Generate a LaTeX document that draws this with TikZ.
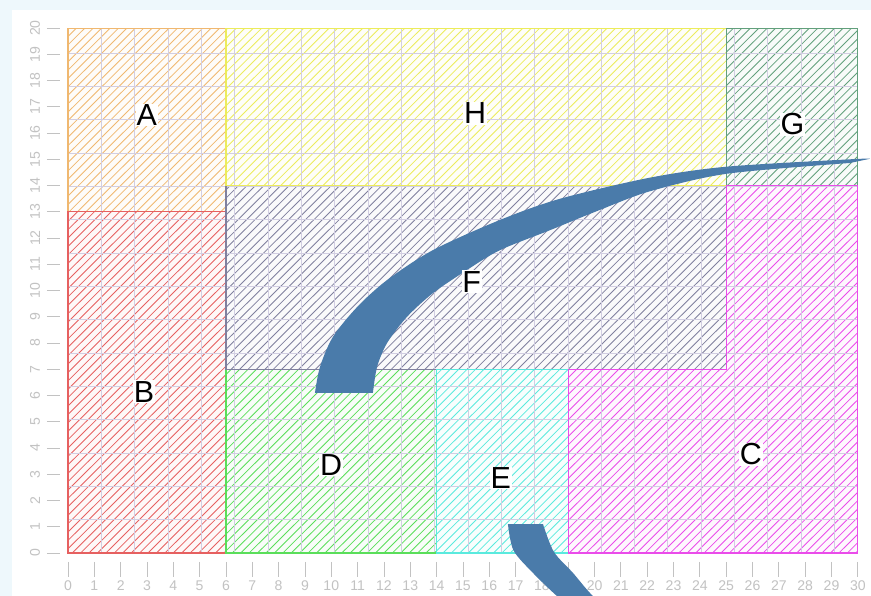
\documentclass[tikz,border=0pt]{standalone}
\usepackage{fontspec}
\setmainfont{Liberation Sans}
\usepackage{tikz}
\definecolor{frameblue}{HTML}{EEF8FC}
\definecolor{gridgray}{HTML}{D2CEE2}
\definecolor{ticklabel}{HTML}{C2C2C2}
\definecolor{arrowblue}{HTML}{4A7BAA}
\definecolor{regA}{HTML}{F0B870}
\definecolor{regB}{HTML}{E66060}
\definecolor{regC}{HTML}{EA4CEA}
\definecolor{regD}{HTML}{5ADE5A}
\definecolor{regE}{HTML}{5AEADE}
\definecolor{regF}{HTML}{80809E}
\definecolor{regG}{HTML}{62A07C}
\definecolor{regH}{HTML}{ECEC5C}
\tikzset{
  gridline/.style  = {gridgray,line width=0.7pt},
  tickline/.style  = {ticklabel,line width=0.7pt},
  ticktext/.style  = {ticklabel,inner sep=0pt,font=\fontsize{12}{12}\selectfont},
  hatchline/.style = {line width=0.7pt},
  edgeline/.style  = {line width=0.9pt},
  regionlbl/.style = {fill=white,inner sep=0.6pt,font=\fontsize{26}{26}\selectfont},
  bandfill/.style  = {fill=arrowblue}
}
\newcommand{\hatchregion}[2]{%
  \begin{scope}
    \clip #2;
    \fill[#1,opacity=0.04] #2;
    \foreach \s in {-20,-19.68,...,30} \draw[hatchline,#1] (\s,0) -- ++(20,20);
  \end{scope}}

\begin{document}
\begin{tikzpicture}[x=0.79cm,y=0.7875cm]
  \useasboundingbox (-2.583,-1.638) rectangle (30.50,21.07);
  \clip (-2.583,-1.638) rectangle (30.50,21.07);
  \fill[frameblue] (-2.583,-1.638) rectangle (30.50,21.07);
  \fill[white] (-2.127,-1.638) rectangle (30.50,20.69);

  \hatchregion{regA}{(0,13) rectangle (6,20)}
  \hatchregion{regB}{(0,0) rectangle (6,13)}
  \hatchregion{regD}{(6,0) rectangle (14,7)}
  \hatchregion{regF}{(6,7) rectangle (25,14)}
  \hatchregion{regH}{(6,14) rectangle (25,20)}
  \hatchregion{regG}{(25,14) rectangle (30,20)}
  \hatchregion{regE}{(14,0) rectangle (19,7)}
  \hatchregion{regC}{(19,0) -- (30,0) -- (30,14) -- (25,14) -- (25,7) -- (19,7) -- cycle}

  \draw[gridline] (0,0) grid (30,20);

  \draw[edgeline,regA] (0,13) rectangle (6,20);
  \draw[edgeline,regB] (0,0) rectangle (6,13);
  \draw[edgeline,regD] (6,0) rectangle (14,7);
  \draw[edgeline,regF] (6,7) rectangle (25,14);
  \draw[edgeline,regH] (6,14) rectangle (25,20);
  \draw[edgeline,regG] (25,14) rectangle (30,20);
  \draw[edgeline,regE] (14,0) rectangle (19,7);
  \draw[edgeline,regC] (19,0) -- (30,0) -- (30,14) -- (25,14) -- (25,7) -- (19,7) -- cycle;

  \foreach \i in {0,...,20} {
    \draw[tickline] (-0.8,\i) -- (-0.3,\i);
    \node[ticktext,rotate=90] (ylab\i) at (-1.25,\i) {\i};
  }
  \foreach \i in {0,...,30} {
    \draw[tickline] (\i,-0.34) -- (\i,-0.91);
    \node[ticktext] (xlab\i) at (\i,-1.26) {\i};
  }

  \fill[bandfill] plot[smooth] coordinates {(9.38,6.10) (9.57,7.09) (10.06,8.23) (10.98,9.37)
      (12.12,10.40) (13.86,11.54) (16.41,12.69) (18.70,13.50) (22.10,14.30) (25.03,14.72)
      (29.70,15.00) (30.46,15.02)}
    -- plot[smooth] coordinates {(29.70,14.86) (25.03,14.45) (22.10,13.78) (20.20,13.07)
      (18.31,12.30) (16.41,11.54) (15.15,10.78) (13.86,9.90) (12.87,8.99) (12.12,8.00)
      (11.74,7.09) (11.58,6.10)} -- cycle;
  \fill[bandfill] plot[smooth] coordinates {(16.71,1.10) (16.92,0.10) (17.66,-0.76)
      (18.57,-1.64) (19.60,-2.50)}
    -- plot[smooth] coordinates {(21.00,-2.50) (19.94,-1.64) (19.18,-0.76) (18.45,0.05)
      (18.04,1.10)} -- cycle;

  \node[regionlbl] (labA) at (2.99,16.69) {A};
  \node[regionlbl] (labH) at (15.46,16.75) {H};
  \node[regionlbl] (labG) at (27.52,16.34) {G};
  \node[regionlbl] (labF) at (15.33,10.34) {F};
  \node[regionlbl] (labB) at (2.89,6.15) {B};
  \node[regionlbl] (labD) at (9.99,3.35) {D};
  \node[regionlbl] (labE) at (16.44,2.86) {E};
  \node[regionlbl] (labC) at (25.94,3.77) {C};
\end{tikzpicture}
\end{document}
